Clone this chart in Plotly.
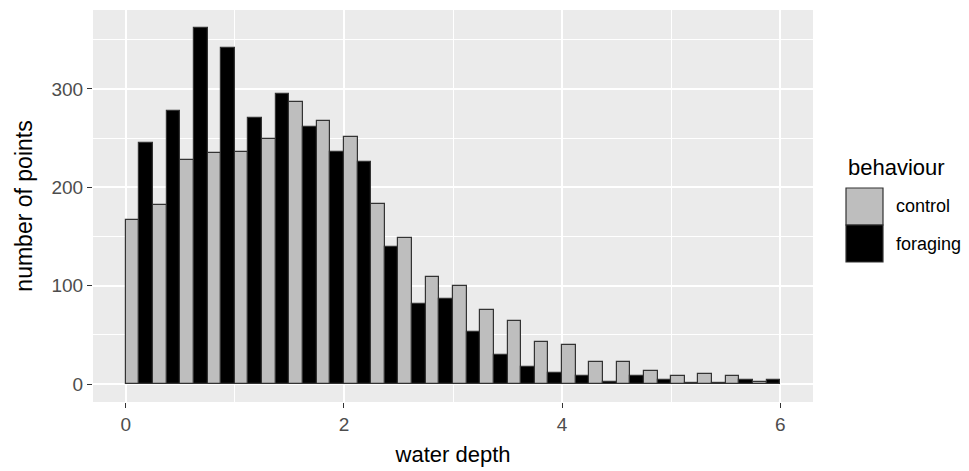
import plotly.graph_objects as go

# ---- data ----
bin_width = 0.25
bin_centers = [0.125 + 0.25 * i for i in range(24)]
control = [167, 182, 228, 235, 236, 249, 287, 267, 251, 183, 149, 109,
           100, 75, 64, 43, 40, 23, 23, 13, 8, 10, 8, 2]
foraging = [245, 278, 362, 342, 270, 295, 261, 236, 226, 139, 81, 87,
            53, 30, 17, 11, 8, 2, 8, 4, 1, 1, 4, 4]
series_names = ["control", "foraging"]
series_colors = ["#BEBEBE", "#000000"]
x_ticks = [0, 2, 4, 6]
y_ticks = [0, 100, 200, 300]

W, H = 969, 471
L, R, T, B = 93, 156, 10, 69
FONT = "Liberation Sans, Arial, sans-serif"

fig = go.Figure()
for name, vals, col in zip(series_names, [control, foraging], series_colors):
    fig.add_trace(go.Bar(
        x=bin_centers, y=vals, name=name,
        marker=dict(color=col, line=dict(color="#333333", width=1.2)),
        showlegend=False,
    ))

axis_common = dict(
    showline=False, zeroline=False,
    ticks="outside", ticklen=5, tickwidth=1, tickcolor="#333333",
    tickfont=dict(family=FONT, size=19, color="#4D4D4D"),
    showgrid=True, gridcolor="white", gridwidth=2,
)

fig.update_layout(
    width=W, height=H,
    margin=dict(l=L, r=R, t=T, b=B),
    paper_bgcolor="white", plot_bgcolor="#EBEBEB",
    barmode="group", bargap=0, bargroupgap=0,
    font=dict(family=FONT, color="#000000"),
    xaxis=dict(
        range=[-0.3, 6.3], tickvals=x_ticks, ticktext=[str(v) for v in x_ticks],
        minor=dict(dtick=1, tick0=0, showgrid=True, gridcolor="white", gridwidth=1, ticks=""),
        title=dict(text="water depth", font=dict(family=FONT, size=22, color="#000000"), standoff=12),
        **axis_common,
    ),
    yaxis=dict(
        range=[-18.1, 380.1], tickvals=y_ticks, ticktext=[str(v) for v in y_ticks],
        minor=dict(dtick=50, tick0=0, showgrid=True, gridcolor="white", gridwidth=1, ticks=""),
        title=dict(text="number of points", font=dict(family=FONT, size=23, color="#000000"), standoff=12),
        **axis_common,
    ),
)

# ---- manual ggplot-style legend ----
pw, ph = W - L - R, H - T - B
def px_x(px):
    return (px - L) / pw
def px_y(py):
    return (H - B - py) / ph

key_left, key_right = 846, 883
key_top, key_h = 188, 37
shapes = []
for i, col in enumerate(series_colors):
    y0 = key_top + i * key_h
    shapes.append(dict(type="rect", xref="paper", yref="paper",
                       x0=px_x(key_left), x1=px_x(key_right),
                       y0=px_y(y0 + key_h), y1=px_y(y0),
                       fillcolor=col, line=dict(color="#333333", width=1.2)))
fig.update_layout(shapes=shapes)

annotations = [dict(text="behaviour", xref="paper", yref="paper",
                    x=px_x(846), y=px_y(167), xanchor="left", yanchor="middle",
                    showarrow=False, font=dict(family=FONT, size=22, color="#000000"))]
for i, name in enumerate(series_names):
    annotations.append(dict(text=name, xref="paper", yref="paper",
                            x=px_x(894), y=px_y(key_top + key_h * i + key_h / 2),
                            xanchor="left", yanchor="middle", showarrow=False,
                            font=dict(family=FONT, size=18, color="#000000")))
fig.update_layout(annotations=annotations)

fig.write_html("out.html",
               config={"displayModeBar": False},
               post_script="document.body.style.margin='0';document.body.style.overflow='hidden';")
